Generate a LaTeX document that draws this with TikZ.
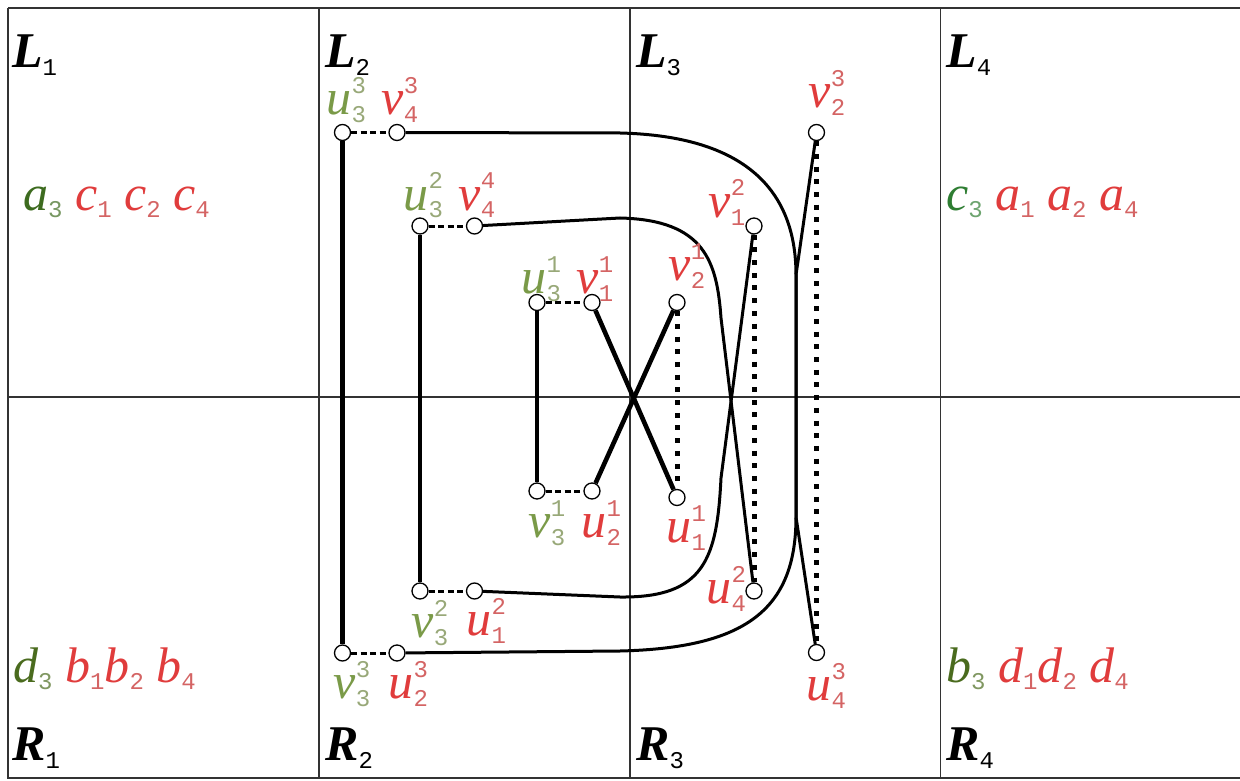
\documentclass[tikz,border=0pt]{standalone}
\usepackage{fontspec}
\setmainfont{Liberation Serif}
\newfontfamily\SerifF{Liberation Serif}
\newfontfamily\DF{Liberation Mono}
\usetikzlibrary{backgrounds}
\definecolor{lgreen}{HTML}{7A9A48}
\definecolor{lgreend}{HTML}{98A878}
\definecolor{lred}{HTML}{E03C3C}
\definecolor{lredd}{HTML}{D46464}
\definecolor{dgreenA}{HTML}{3D6B1F}
\definecolor{dgreenC}{HTML}{2E7D32}
\definecolor{dgreenD}{HTML}{4A6B1E}
\definecolor{gridc}{HTML}{333333}
\newcommand\LF{\SerifF\fontsize{50}{54}\selectfont\itshape}
\newcommand\LFB{\SerifF\fontsize{50}{54}\selectfont\bfseries\itshape}
\newcommand\SF{\DF\mdseries\upshape\fontsize{24}{26}\selectfont}
\newcommand\VL[5]{{\color{#1}\LF #3}\kern0.5pt\rlap{\color{#2}\SF\raisebox{21pt}{#4}}{\color{#2}\SF\raisebox{-8pt}{#5}}}
\newcommand\QL[4]{{\color{#1}\LF #3}{\color{#2}\SF\raisebox{-7pt}{#4}}}
\newcommand\BL[2]{{\LFB #1}{\SF\raisebox{-8pt}{#2}}}
\tikzset{
 vtx/.style={circle, draw=black, line width=1.3pt, fill=white, minimum size=16pt, inner sep=0pt},
 gridline/.style={line width=1.3pt, draw=gridc},
 solidedge/.style={line width=4.6pt},
 curveedge/.style={line width=3pt},
 dashedge/.style={line width=3pt, dash pattern=on 6pt off 3.5pt},
 dotedge/.style={line width=5pt, dash pattern=on 5pt off 7.7pt},
 lbl/.style={inner sep=0pt, anchor=base west, font=\LF}
}
\begin{document}
\begin{tikzpicture}[x=1pt,y=-1pt]
\useasboundingbox (0,0) rectangle (1240,781);
\clip (0,0) rectangle (1240,781);
% vertices
\node[vtx] (u33) at (342.5,132.5) {};
\node[vtx] (v43) at (397,132.5) {};
\node[vtx] (u32) at (420,226) {};
\node[vtx] (v44) at (474.5,226) {};
\node[vtx] (u31) at (537,302.5) {};
\node[vtx] (v11) at (592,302.5) {};
\node[vtx] (v21) at (677,302.5) {};
\node[vtx] (v12) at (754,226) {};
\node[vtx] (v23) at (816.5,132.5) {};
\node[vtx] (v31) at (537,491) {};
\node[vtx] (u21) at (592,491) {};
\node[vtx] (u11) at (677,497.5) {};
\node[vtx] (v32) at (420,591) {};
\node[vtx] (u12) at (474.5,591) {};
\node[vtx] (u42) at (754,591) {};
\node[vtx] (v33) at (342.5,653) {};
\node[vtx] (u23) at (397,653) {};
\node[vtx] (u43) at (816.5,652.5) {};
\begin{pgfonlayer}{background}
% frame and grid
\draw[gridline, line width=2pt] (8,8) -- (1250,8);
\draw[gridline, line width=2pt] (8,8) -- (8,778) -- (1250,778);
\draw[gridline] (319,8) -- (319,778);
\draw[gridline] (630,8) -- (630,778);
\draw[gridline] (940.5,8) -- (940.5,778);
\draw[gridline] (8,397) -- (1250,397);
% solid verticals
\draw[solidedge] (u33) -- (v33);
\draw[solidedge] (u32) -- (v32);
\draw[solidedge] (u31) -- (v31);
% dashed
\draw[dashedge] (u33) -- (v43);
\draw[dashedge] (v33) -- (u23);
\draw[dashedge] (u32) -- (v44);
\draw[dashedge] (v32) -- (u12);
\draw[dashedge] (u31) -- (v11);
\draw[dashedge] (v31) -- (u21);
% center cross
\draw[solidedge] (v11) -- (u11);
\draw[solidedge] (u21) -- (v21);
% dotted
\draw[dotedge] (v21) -- (u11);
\draw[dotedge] (v12) -- (u42);
\draw[dotedge] (v23) -- (u43);
% inner curves
\draw[curveedge] (v44) -- (620,218) .. controls (705,220) and (717,262) .. (721,318) -- (u42);
\draw[curveedge] (u12) -- (620,597) .. controls (705,598) and (717,558) .. (721,478) -- (v12);
% outer curves
\draw[curveedge] (v43) -- (620,133) .. controls (745,136) and (796,190) .. (796,275) -- (796,517) -- (u43);
\draw[curveedge] (v23) -- (796,275) -- (796,517) .. controls (796,610) and (745,648) .. (620,651) -- (u23);
\end{pgfonlayer}
% region labels
\node[lbl] (L1) at (12,68) {\BL{L}{1}};
\node[lbl] (L2) at (325,68) {\BL{L}{2}};
\node[lbl] (L3) at (636,68) {\BL{L}{3}};
\node[lbl] (L4) at (946,68) {\BL{L}{4}};
\node[lbl] (R1) at (12,760) {\BL{R}{1}};
\node[lbl] (R2) at (325,760) {\BL{R}{2}};
\node[lbl] (R3) at (636,760) {\BL{R}{3}};
\node[lbl] (R4) at (946,760) {\BL{R}{4}};
% group labels
\node[lbl] (gL1) at (23,210) {\QL{dgreenA}{dgreenA!70}{a}{3} \QL{lred}{lredd}{c}{1} \QL{lred}{lredd}{c}{2} \QL{lred}{lredd}{c}{4}};
\node[lbl] (gL4) at (946,210) {\QL{dgreenC}{dgreenC!70}{c}{3} \QL{lred}{lredd}{a}{1} \QL{lred}{lredd}{a}{2} \QL{lred}{lredd}{a}{4}};
\node[lbl] (gR1) at (13,682) {\QL{dgreenD}{dgreenD!70}{d}{3} \QL{lred}{lredd}{b}{1}\QL{lred}{lredd}{b}{2} \QL{lred}{lredd}{b}{4}};
\node[lbl] (gR4) at (946,682) {\QL{dgreenD}{dgreenD!70}{b}{3} \QL{lred}{lredd}{d}{1}\QL{lred}{lredd}{d}{2} \QL{lred}{lredd}{d}{4}};
% vertex labels
\node[lbl] (lu33) at (326,115) {\VL{lgreen}{lgreend}{u}{3}{3}};
\node[lbl] (lv43) at (381,115) {\VL{lred}{lredd}{v}{3}{4}};
\node[lbl] (lu32) at (403,210) {\VL{lgreen}{lgreend}{u}{2}{3}};
\node[lbl] (lv44) at (458,210) {\VL{lred}{lredd}{v}{4}{4}};
\node[lbl] (lu31) at (521,293) {\VL{lgreen}{lgreend}{u}{1}{3}};
\node[lbl] (lv11) at (576,293) {\VL{lred}{lredd}{v}{1}{1}};
\node[lbl] (lv21) at (668,280) {\VL{lred}{lredd}{v}{1}{2}};
\node[lbl] (lv12) at (708,217) {\VL{lred}{lredd}{v}{2}{1}};
\node[lbl] (lv23) at (808,108) {\VL{lred}{lredd}{v}{3}{2}};
\node[lbl] (lv31) at (528,537) {\VL{lgreen}{lgreend}{v}{1}{3}};
\node[lbl] (lu21) at (581,537) {\VL{lred}{lredd}{u}{1}{2}};
\node[lbl] (lv32) at (411,637) {\VL{lgreen}{lgreend}{v}{2}{3}};
\node[lbl] (lu12) at (466,635) {\VL{lred}{lredd}{u}{2}{1}};
\node[lbl] (lv33) at (333,698) {\VL{lgreen}{lgreend}{v}{3}{3}};
\node[lbl] (lu23) at (388,698) {\VL{lred}{lredd}{u}{3}{2}};
\node[lbl] (lu11) at (666,542) {\VL{lred}{lredd}{u}{1}{1}};
\node[lbl] (lu42) at (706,603) {\VL{lred}{lredd}{u}{2}{4}};
\node[lbl] (lu43) at (806,700) {\VL{lred}{lredd}{u}{3}{4}};
\end{tikzpicture}
\end{document}
